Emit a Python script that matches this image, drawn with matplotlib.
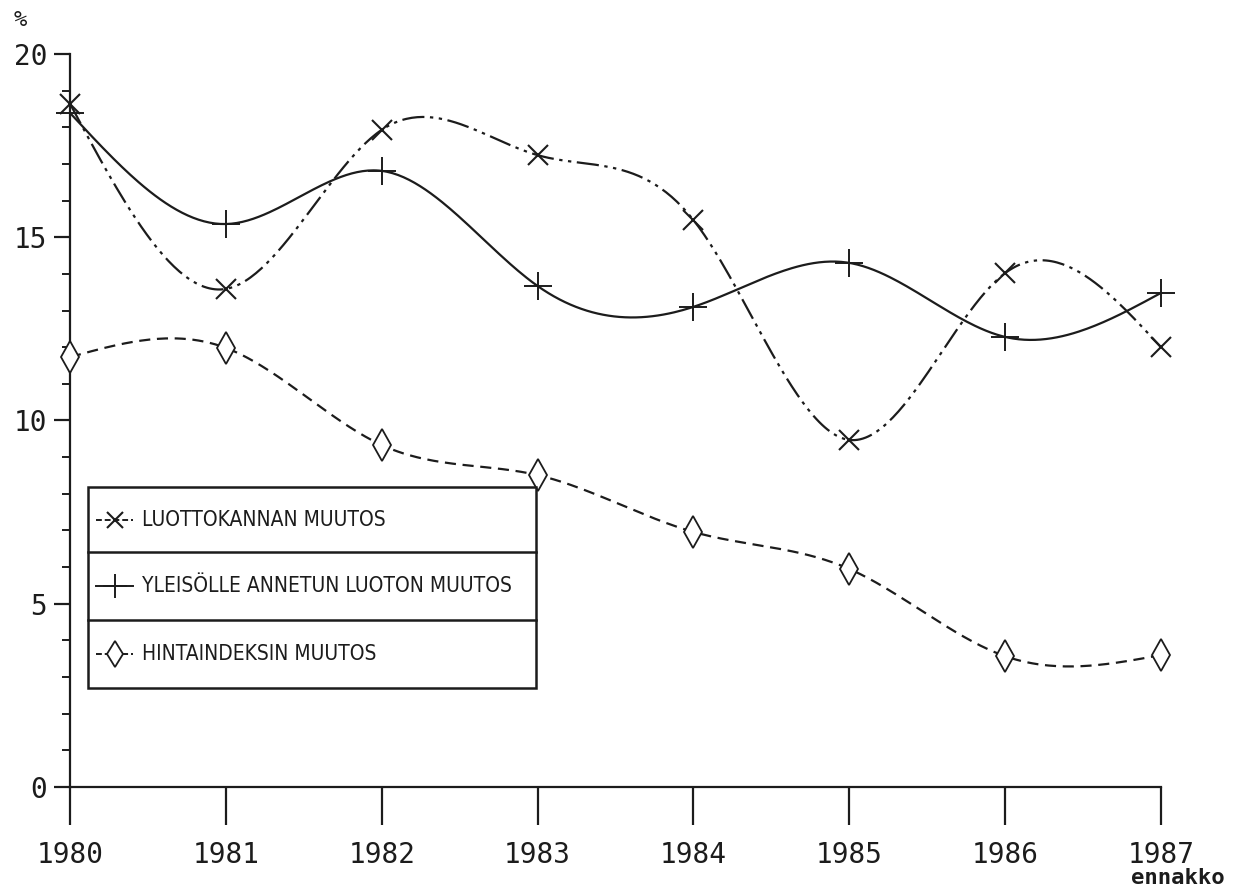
import numpy as np
import matplotlib
matplotlib.use("Agg")
import matplotlib.pyplot as plt
from matplotlib.patches import Rectangle
from matplotlib.lines import Line2D

# data
years = [1980, 1981, 1982, 1983, 1984, 1985, 1986, 1987]
luottokanta = [18.64, 13.59, 17.93, 17.24, 15.47, 9.47, 14.02, 12.0]
yleisolle = [18.39, 15.36, 16.81, 13.67, 13.1, 14.3, 12.28, 13.48]
hintaindeksi = [11.73, 11.98, 9.33, 8.51, 6.96, 5.95, 3.57, 3.6]
labels = ["LUOTTOKANNAN MUUTOS", "YLEISÖLLE ANNETUN LUOTON MUUTOS", "HINTAINDEKSIN MUUTOS"]

ink = "#1c1c1c"


def spline(x, y, n=400):
    # natural cubic spline, only for drawing the smooth line
    x = np.asarray(x, float)
    y = np.asarray(y, float)
    k = len(x)
    h = np.diff(x)
    A = np.zeros((k, k))
    b = np.zeros(k)
    A[0, 0] = A[-1, -1] = 1
    for i in range(1, k - 1):
        A[i, i - 1] = h[i - 1]
        A[i, i] = 2 * (h[i - 1] + h[i])
        A[i, i + 1] = h[i]
        b[i] = 6 * ((y[i + 1] - y[i]) / h[i] - (y[i] - y[i - 1]) / h[i - 1])
    M = np.linalg.solve(A, b)
    xs = np.linspace(x[0], x[-1], n)
    idx = np.clip(np.searchsorted(x, xs) - 1, 0, k - 2)
    x0, x1 = x[idx], x[idx + 1]
    hh = x1 - x0
    ys = (M[idx] * (x1 - xs) ** 3 / (6 * hh) + M[idx + 1] * (xs - x0) ** 3 / (6 * hh)
          + (y[idx] / hh - M[idx] * hh / 6) * (x1 - xs)
          + (y[idx + 1] / hh - M[idx + 1] * hh / 6) * (xs - x0))
    return xs, ys


fig = plt.figure(figsize=(12.51, 8.92), dpi=100)
ax = fig.add_axes([0.056, 0.1177, 0.872, 0.8218])

styles = [
    dict(ls=(0, (10, 2.5, 1.5, 2.5, 1.5, 2.5)), marker="x", ms=14, mew=1.5),
    dict(ls="-", marker="+", ms=20, mew=1.4),
    dict(ls=(0, (5, 3)), marker="d", ms=16, mew=1.3),
]
series = [luottokanta, yleisolle, hintaindeksi]

for vals, st in zip(series, styles):
    xs, ys = spline(years, vals)
    ax.plot(xs, ys, color=ink, lw=1.6, ls=st["ls"], clip_on=False)
    ax.plot(years, vals, ls="none", marker=st["marker"], ms=st["ms"], mew=st["mew"],
            color=ink, mfc="white" if st["marker"] == "d" else ink, clip_on=False, zorder=3)

ax.set_xlim(1980, 1987)
ax.set_ylim(0, 20)
for s in ["top", "right"]:
    ax.spines[s].set_visible(False)
for s in ["left", "bottom"]:
    ax.spines[s].set_linewidth(1.6)
    ax.spines[s].set_color(ink)

ax.set_xticks(years)
ax.set_xticklabels([str(y) for y in years])
ax.set_yticks([0, 5, 10, 15, 20])
ax.set_yticks(range(0, 21), minor=True)
ax.tick_params(axis="x", length=27, width=1.6, color=ink, pad=12,
               labelsize=20, labelcolor=ink)
ax.tick_params(axis="y", which="major", length=11.5, width=1.6, color=ink, pad=5,
               labelsize=20, labelcolor=ink)
ax.tick_params(axis="y", which="minor", length=6, width=1.4, color=ink)
for lab in ax.get_xticklabels() + ax.get_yticklabels():
    lab.set_family("DejaVu Sans Mono")

fig.text(0.011, 0.978, "%", fontsize=16, color=ink, family="DejaVu Sans Mono", va="center")
ax.text(1987.11, -0.124, "ennakko", transform=ax.get_xaxis_transform(), fontsize=16,
        color=ink, family="DejaVu Sans Mono", ha="center", va="center", weight="bold")

# legend box drawn as three rows
bx0, bx1 = 0.0165, 0.427
rows = [0.409, 0.3206, 0.2278, 0.135]
ax.add_patch(Rectangle((bx0, rows[-1]), bx1 - bx0, rows[0] - rows[-1], transform=ax.transAxes,
                       fill=True, fc="white", ec=ink, lw=1.8, zorder=4))
for r in rows[1:-1]:
    ax.add_line(Line2D([bx0, bx1], [r, r], transform=ax.transAxes, color=ink, lw=1.8, zorder=5))
for i, (lab, st) in enumerate(zip(labels, styles)):
    yc = (rows[i] + rows[i + 1]) / 2
    ax.add_line(Line2D([0.024, 0.058], [yc, yc], transform=ax.transAxes, color=ink, lw=1.4,
                       ls=st["ls"] if st["ls"] == "-" else (0, (3, 1.5)), zorder=5))
    ax.add_line(Line2D([0.041], [yc], transform=ax.transAxes, ls="none", marker=st["marker"],
                       ms=st["ms"] * 0.85, mew=st["mew"], color=ink,
                       mfc="white" if st["marker"] == "d" else ink, zorder=6))
    ax.text(0.066, yc, lab, transform=ax.transAxes, fontsize=15, color=ink, va="center",
            family="DejaVu Sans", stretch="condensed", zorder=6)

fig.savefig("out.png", dpi=100, facecolor="white")
